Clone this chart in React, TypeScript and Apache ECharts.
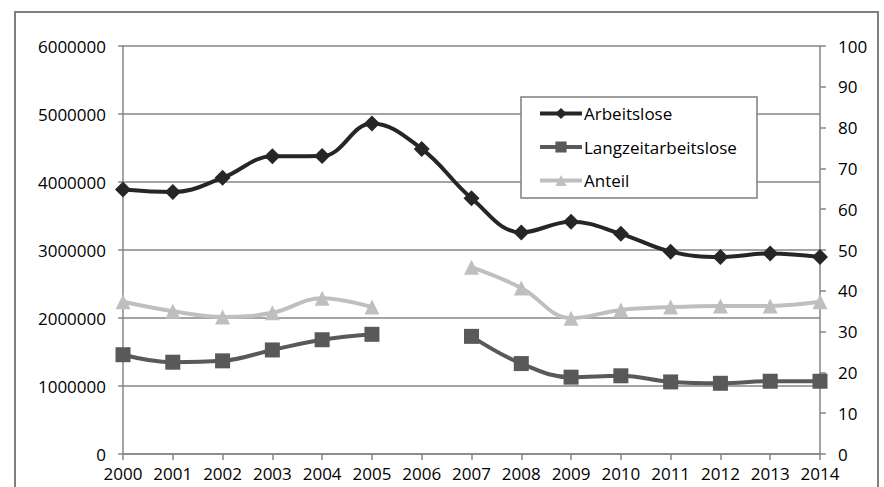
import React, { useEffect, useRef } from "react";
import * as echarts from "echarts";

const years = ["2000","2001","2002","2003","2004","2005","2006","2007","2008","2009","2010","2011","2012","2013","2014"];
const arbeitslose = [3890000,3853000,4061000,4377000,4381000,4861000,4487000,3761000,3259000,3415000,3238000,2976000,2897000,2950000,2898000];
const langzeit = [1460000,1350000,1370000,1530000,1680000,1760000,null,1730000,1330000,1130000,1150000,1060000,1040000,1070000,1070000];
const anteil = [37.3,35.0,33.6,34.6,38.2,36.0,null,45.8,40.7,33.3,35.3,36.0,36.3,36.3,37.3];

const FONT = "Open Sans";
const AXIS = "#868686";

export default function App() {
  const ref = useRef<HTMLDivElement>(null);
  useEffect(() => {
    const chart = echarts.init(ref.current!, null, { renderer: "svg" });
    chart.setOption({
      animation: false,
      backgroundColor: "#ffffff",
      textStyle: { fontFamily: FONT },
      grid: { left: 123, right: 64, top: 46, bottom: 33 },
      graphic: [
        { type: "rect", shape: { x: 15, y: 12, width: 863, height: 500 }, style: { fill: "none", stroke: "#7f7f7f", lineWidth: 2 }, z: 0 },
        { type: "rect", shape: { x: 521, y: 97, width: 236, height: 101 }, style: { fill: "#ffffff", stroke: "#7f7f7f", lineWidth: 1.5 }, z: 5 },
      ],
      legend: {
        show: true,
        orient: "vertical",
        left: 538,
        top: 105,
        itemWidth: 42,
        itemHeight: 14,
        itemGap: 16.5,
        padding: 0,
        z: 10,
        lineStyle: { width: 4 },
        textStyle: { fontFamily: FONT, fontSize: 17, color: "#000", padding: [0, 0, 0, -3] },
        data: ["Arbeitslose", "Langzeitarbeitslose", "Anteil"],
      },
      xAxis: {
        type: "category",
        data: years,
        boundaryGap: false,
        axisLine: { lineStyle: { color: AXIS, width: 1.5 } },
        axisTick: { show: true, length: 6, interval: 0, lineStyle: { color: AXIS, width: 1.5 } },
        axisLabel: { color: "#000", fontFamily: FONT, fontSize: 17, margin: 11, interval: 0 },
      },
      yAxis: [
        {
          type: "value",
          min: 0,
          max: 6000000,
          interval: 1000000,
          axisLine: { show: true, lineStyle: { color: AXIS, width: 1.5 } },
          axisTick: { show: true, length: 5, lineStyle: { color: AXIS, width: 1.5 } },
          splitLine: { show: true, lineStyle: { color: AXIS, width: 1.5 } },
          axisLabel: { color: "#000", fontFamily: FONT, fontSize: 17, margin: 17, formatter: (v: number) => String(v) },
        },
        {
          type: "value",
          min: 0,
          max: 100,
          interval: 10,
          position: "right",
          axisLine: { show: true, lineStyle: { color: AXIS, width: 1.5 } },
          axisTick: { show: true, length: 6, lineStyle: { color: AXIS, width: 1.5 } },
          splitLine: { show: false },
          axisLabel: { color: "#000", fontFamily: FONT, fontSize: 17, margin: 18, formatter: (v: number) => String(v) },
        },
      ],
      series: [
        {
          name: "Arbeitslose",
          type: "line",
          data: arbeitslose,
          smooth: 0.4,
          symbol: "diamond",
          symbolSize: 16,
          lineStyle: { color: "#262626", width: 4 },
          itemStyle: { color: "#262626" },
          z: 4,
        },
        {
          name: "Langzeitarbeitslose",
          type: "line",
          data: langzeit,
          smooth: 0.4,
          symbol: "rect",
          symbolSize: 15,
          lineStyle: { color: "#595959", width: 4 },
          itemStyle: { color: "#595959" },
          z: 3,
        },
        {
          name: "Anteil",
          type: "line",
          yAxisIndex: 1,
          data: anteil,
          smooth: 0.4,
          symbol: "triangle",
          symbolSize: 15,
          lineStyle: { color: "#bfbfbf", width: 4 },
          itemStyle: { color: "#bfbfbf" },
          z: 2,
        },
      ],
    });
    return () => chart.dispose();
  }, []);
  return <div ref={ref} style={{ position: "fixed", left: 0, top: 0, width: 884, height: 487 }} />;
}
